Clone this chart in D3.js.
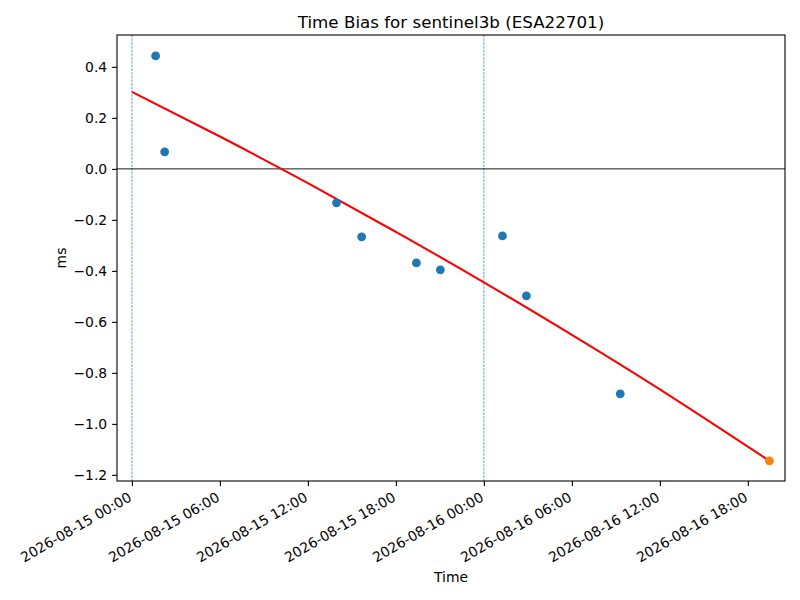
<!DOCTYPE html>
<html>
<head>
<meta charset="utf-8">
<script src="https://cdn.jsdelivr.net/npm/d3@7"></script>
<style>
  body { margin: 0; background: #fff; }
  text { font-family: "DejaVu Sans", sans-serif; fill: #000; }
</style>
</head>
<body>
<svg id="chart" width="800" height="600"></svg>
<script>
// observed passes (UTC) and bias in ms
const obsTimes = [
  "2026-08-15T01:37:00Z", "2026-08-15T02:14:00Z", "2026-08-15T13:57:00Z",
  "2026-08-15T15:40:00Z", "2026-08-15T19:24:00Z", "2026-08-15T21:02:00Z",
  "2026-08-16T01:16:00Z", "2026-08-16T02:54:00Z", "2026-08-16T09:18:00Z"
];
const obsBias = [0.443, 0.067, -0.133, -0.267, -0.369, -0.396, -0.263, -0.498, -0.882];

// fitted trend (slightly curved)
const fitTimes = [
  "2026-08-15T00:00:00Z", "2026-08-15T06:00:00Z", "2026-08-15T12:00:00Z",
  "2026-08-15T18:00:00Z", "2026-08-16T00:00:00Z", "2026-08-16T06:00:00Z",
  "2026-08-16T12:00:00Z", "2026-08-16T19:28:00Z"
];
const fitBias = [0.302, 0.127, -0.056, -0.247, -0.445, -0.651, -0.865, -1.145];

// predicted point at the end
const predTime = "2026-08-16T19:28:00Z";
const predBias = -1.145;

// day boundaries
const dayLines = ["2026-08-15T00:00:00Z", "2026-08-16T00:00:00Z"];

const xTicks = [
  "2026-08-15T00:00:00Z", "2026-08-15T06:00:00Z", "2026-08-15T12:00:00Z", "2026-08-15T18:00:00Z",
  "2026-08-16T00:00:00Z", "2026-08-16T06:00:00Z", "2026-08-16T12:00:00Z", "2026-08-16T18:00:00Z"
];
const yTicks = [0.4, 0.2, 0.0, -0.2, -0.4, -0.6, -0.8, -1.0, -1.2];

const xDomain = ["2026-08-14T22:59:00Z", "2026-08-16T20:32:00Z"];
const yDomain = [-1.224, 0.525];

const svg = d3.select("#chart");
const margin = { left: 117, right: 785, top: 35, bottom: 481 };

const x = d3.scaleUtc()
  .domain(xDomain.map(d => new Date(d)))
  .range([margin.left, margin.right]);
const y = d3.scaleLinear()
  .domain(yDomain)
  .range([margin.bottom, margin.top]);

svg.append("rect")
  .attr("width", 800).attr("height", 600)
  .attr("fill", "#fff");

const plot = svg.append("g");

// vertical day lines
plot.selectAll("line.day")
  .data(dayLines)
  .enter()
  .append("line")
  .attr("class", "day")
  .attr("x1", d => x(new Date(d)))
  .attr("x2", d => x(new Date(d)))
  .attr("y1", margin.top)
  .attr("y2", margin.bottom)
  .attr("stroke", "#1f77b4")
  .attr("stroke-width", 0.7)
  .attr("stroke-dasharray", "2.6,1.1");

// zero line
plot.append("line")
  .attr("x1", margin.left)
  .attr("x2", margin.right)
  .attr("y1", y(0))
  .attr("y2", y(0))
  .attr("stroke", "#000")
  .attr("stroke-width", 0.9);

// fit curve
const line = d3.line()
  .x(d => x(new Date(d[0])))
  .y(d => y(d[1]))
  .curve(d3.curveNatural);

plot.append("path")
  .datum(d3.zip(fitTimes, fitBias))
  .attr("d", line)
  .attr("fill", "none")
  .attr("stroke", "#ff0000")
  .attr("stroke-width", 2.08);

// observations
plot.selectAll("circle.obs")
  .data(d3.zip(obsTimes, obsBias))
  .enter()
  .append("circle")
  .attr("class", "obs")
  .attr("cx", d => x(new Date(d[0])))
  .attr("cy", d => y(d[1]))
  .attr("r", 4.4)
  .attr("fill", "#1f77b4");

plot.append("circle")
  .attr("cx", x(new Date(predTime)))
  .attr("cy", y(predBias))
  .attr("r", 4.4)
  .attr("fill", "#ff7f0e");

// axes
const fmt = d3.utcFormat("%Y-%m-%d %H:%M");
const xAxis = svg.append("g")
  .attr("transform", `translate(0,${margin.bottom})`)
  .call(d3.axisBottom(x)
    .tickValues(xTicks.map(d => new Date(d)))
    .tickFormat(fmt)
    .tickSize(4.9)
    .tickPadding(4.9)
    .tickSizeOuter(0));
xAxis.select(".domain").remove();
xAxis.selectAll(".tick line").attr("stroke", "#000").attr("stroke-width", 1.1);
xAxis.selectAll(".tick text")
  .attr("font-size", "13.9px")
  .attr("font-family", "DejaVu Sans")
  .attr("text-anchor", "end")
  .attr("y", 0)
  .attr("dy", "0.75em")
  .attr("transform", "translate(-5,10) rotate(-30)");

const fmtY = v => d3.format(".1f")(v).replace("-", "\u2212");
const yAxis = svg.append("g")
  .attr("transform", `translate(${margin.left},0)`)
  .call(d3.axisLeft(y)
    .tickValues(yTicks)
    .tickFormat(fmtY)
    .tickSize(4.9)
    .tickPadding(4.9)
    .tickSizeOuter(0));
yAxis.select(".domain").remove();
yAxis.selectAll(".tick line").attr("stroke", "#000").attr("stroke-width", 1.1);
yAxis.selectAll(".tick text")
  .attr("font-size", "13.9px")
  .attr("font-family", "DejaVu Sans");

// frame
svg.append("rect")
  .attr("x", margin.left)
  .attr("y", margin.top)
  .attr("width", margin.right - margin.left)
  .attr("height", margin.bottom - margin.top)
  .attr("fill", "none")
  .attr("stroke", "#000")
  .attr("stroke-width", 1.1);

// labels
svg.append("text")
  .attr("x", (margin.left + margin.right) / 2)
  .attr("y", 28)
  .attr("text-anchor", "middle")
  .attr("font-size", "16.7px")
  .text("Time Bias for sentinel3b (ESA22701)");

svg.append("text")
  .attr("x", (margin.left + margin.right) / 2)
  .attr("y", 582)
  .attr("text-anchor", "middle")
  .attr("font-size", "13.9px")
  .text("Time");

svg.append("text")
  .attr("transform", `translate(66,${(margin.top + margin.bottom) / 2}) rotate(-90)`)
  .attr("text-anchor", "middle")
  .attr("font-size", "13.9px")
  .text("ms");
</script>
</body>
</html>
